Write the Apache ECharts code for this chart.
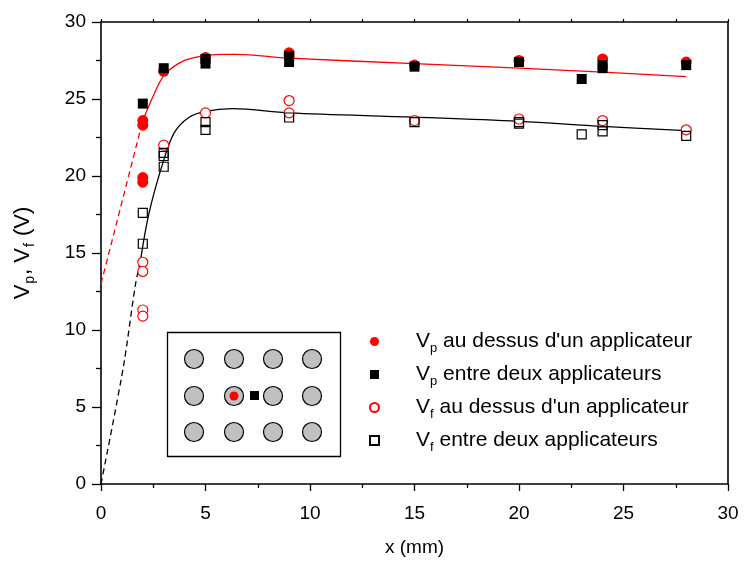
<!DOCTYPE html>
<html>
<head>
<meta charset="utf-8">
<script src="https://cdn.jsdelivr.net/npm/echarts@6/dist/echarts.min.js"></script>
<style>
html,body{margin:0;padding:0;background:#fff;}
#c{width:745px;height:562px;}
</style>
</head>
<body>
<div id="c"></div>
<script>
// ---- data ----
var vpAuDessus = [[2,23.6],[2,23.3],[2,19.9],[2,19.6],[3,26.8],[5,27.7],[9,28.0],[9,27.8],[15,27.2],[20,27.5],[24,27.6],[28,27.4]];
var vpEntre = [[2,24.7],[3,27.0],[5,27.6],[5,27.3],[9,27.8],[9,27.4],[15,27.1],[20,27.4],[23,26.3],[24,27.2],[24,27.0],[28,27.2]];
var vfAuDessus = [[2,14.4],[2,13.8],[2,11.3],[2,10.9],[3,22.0],[5,24.1],[9,24.9],[9,24.1],[15,23.6],[20,23.7],[24,23.6],[28,23.0]];
var vfEntre = [[2,17.6],[2,15.6],[3,21.5],[3,21.3],[3,20.6],[5,23.5],[5,23.0],[9,23.8],[15,23.5],[20,23.5],[20,23.4],[23,22.7],[24,23.3],[24,22.9],[28,22.6]];
var fitVpSolid = [[2.0,23.6],[2.5,25.2],[3.0,26.5],[3.7,27.3],[4.5,27.7],[5.8,27.9],[6.5,27.9],[9.0,27.65],[15,27.3],[20,27.0],[24,26.75],[28,26.45]];
var fitVpDashed = [[0,13.0],[2.0,23.6]];
var fitVfSolid = [[1.9,14.6],[2.3,17.6],[2.95,20.8],[3.5,22.8],[4.2,23.8],[5.0,24.2],[6.3,24.37],[9,24.1],[15,23.82],[20,23.55],[24,23.22],[28,22.95]];
var fitVfDashed = [[0,0],[1.07,7.6],[1.63,12.8],[1.9,14.6]];
var xTicks = {min:0, max:30, interval:5};
var yTicks = {min:0, max:30, interval:5};
var legendNames = ["Vp au dessus d'un applicateur","Vp entre deux applicateurs","Vf au dessus d'un applicateur","Vf entre deux applicateurs"];
var legendSub = {"Vp au dessus d'un applicateur":["p"," au dessus d'un applicateur"],
                 "Vp entre deux applicateurs":["p"," entre deux applicateurs"],
                 "Vf au dessus d'un applicateur":["f"," au dessus d'un applicateur"],
                 "Vf entre deux applicateurs":["f"," entre deux applicateurs"]};

var FONT = "'Liberation Sans', Arial, sans-serif";
var chart = echarts.init(document.getElementById('c'), null, {renderer:'canvas'});

var G = {left:101, top:22, right:745-728, bottom:562-485};

// inset schematic
var inset = [];
inset.push({type:'rect', shape:{x:167.5,y:332.5,width:173,height:124}, style:{fill:'#fff', stroke:'#000', lineWidth:1.3}, z:10});
var cols=[194,234,273,312], rows=[359,396,432];
rows.forEach(function(r){cols.forEach(function(c){
  inset.push({type:'circle', shape:{cx:c,cy:r,r:9.5}, style:{fill:'#c0c0c0', stroke:'#000', lineWidth:1.2}, z:11});
});});
inset.push({type:'circle', shape:{cx:234,cy:396,r:4.5}, style:{fill:'#ff0000'}, z:12});
inset.push({type:'rect', shape:{x:250,y:391,width:9,height:9}, style:{fill:'#000'}, z:12});

var richL = {
  v:{fontSize:21, fontFamily:FONT, color:'#000', lineHeight:22},
  s:{fontSize:13, fontFamily:FONT, color:'#000', lineHeight:22, padding:[14,0,0,0]},
  g:{width:32}
};
var richY = {
  v:{fontSize:22, fontFamily:FONT, color:'#000', lineHeight:24},
  s:{fontSize:14, fontFamily:FONT, color:'#000', lineHeight:24, padding:[14,1,0,1]}
};

chart.setOption({
  animation:false,
  backgroundColor:'#fff',
  grid:G,
  xAxis:[{
    type:'value', min:xTicks.min, max:xTicks.max, interval:xTicks.interval,
    position:'bottom',
    axisLine:{lineStyle:{color:'#000', width:1.6}},
    axisTick:{inside:false, length:7, lineStyle:{color:'#000', width:1.3}},
    minorTick:{show:true, splitNumber:2, length:4, lineStyle:{color:'#000', width:1.3}},
    splitLine:{show:false},
    axisLabel:{fontSize:19, fontFamily:FONT, color:'#000', margin:20},
    name:'x (mm)', nameLocation:'middle', nameGap:54,
    nameTextStyle:{fontSize:19, fontFamily:FONT, color:'#000'}
  },{
    type:'value', min:xTicks.min, max:xTicks.max, interval:xTicks.interval,
    position:'top',
    axisLine:{onZero:false, lineStyle:{color:'#000', width:1.6}},
    axisTick:{inside:false, length:3, lineStyle:{color:'#000', width:1.2}},
    minorTick:{show:true, splitNumber:2, length:3, lineStyle:{color:'#000', width:1.2}},
    axisLabel:{show:false}, splitLine:{show:false}
  }],
  yAxis:[{
    type:'value', min:yTicks.min, max:yTicks.max, interval:yTicks.interval,
    position:'left',
    axisLine:{show:true, onZero:false, lineStyle:{color:'#000', width:1.6}},
    axisTick:{show:true, inside:false, length:9, lineStyle:{color:'#000', width:1.3}},
    minorTick:{show:true, splitNumber:2, length:5, lineStyle:{color:'#000', width:1.3}},
    splitLine:{show:false},
    axisLabel:{fontSize:19, fontFamily:FONT, color:'#000', margin:15},
    name:'{v|V}{s|p}{v|, V}{s|f}{v| (V)}', nameLocation:'middle', nameGap:66, nameRotate:90,
    nameTextStyle:{rich:richY}
  },{
    type:'value', min:yTicks.min, max:yTicks.max, interval:yTicks.interval,
    position:'right',
    axisLine:{show:true, onZero:false, lineStyle:{color:'#000', width:1.6}},
    axisTick:{show:false}, axisLabel:{show:false}, splitLine:{show:false}
  }],
  legend:{
    orient:'vertical', left:364, top:323, itemGap:6,
    itemWidth:9, itemHeight:9,
    data:legendNames,
    formatter:function(n){ var p=legendSub[n]; return '{g|}{v|V}{s|'+p[0]+'}{v|'+p[1]+'}'; },
    textStyle:{rich:richL}
  },
  graphic:inset,
  series:[
    {type:'line', data:fitVpDashed, showSymbol:false, lineStyle:{color:'#ff0000', width:1.3, type:[6,4]}, silent:true, z:2},
    {type:'line', data:fitVpSolid, showSymbol:false, smooth:0.35, lineStyle:{color:'#ff0000', width:1.3}, silent:true, z:2},
    {type:'line', data:fitVfDashed, showSymbol:false, smooth:0.3, lineStyle:{color:'#000', width:1.3, type:[6,4]}, silent:true, z:2},
    {type:'line', data:fitVfSolid, showSymbol:false, smooth:0.35, lineStyle:{color:'#000', width:1.3}, silent:true, z:2},
    {name:legendNames[2], type:'scatter', data:vfAuDessus, symbol:'circle', symbolSize:10,
      itemStyle:{color:'#fff', borderColor:'#ff0000', borderWidth:1.2, opacity:1}, z:3},
    {name:legendNames[3], type:'scatter', data:vfEntre, symbol:'rect', symbolSize:9,
      itemStyle:{color:'rgba(255,255,255,0)', borderColor:'#000', borderWidth:1.2, opacity:1}, z:4},
    {name:legendNames[0], type:'scatter', data:vpAuDessus, symbol:'circle', symbolSize:11,
      itemStyle:{color:'#ff0000', opacity:1}, z:5},
    {name:legendNames[1], type:'scatter', data:vpEntre, symbol:'rect', symbolSize:10,
      itemStyle:{color:'#000', opacity:1}, z:6}
  ]
});
</script>
</body>
</html>
